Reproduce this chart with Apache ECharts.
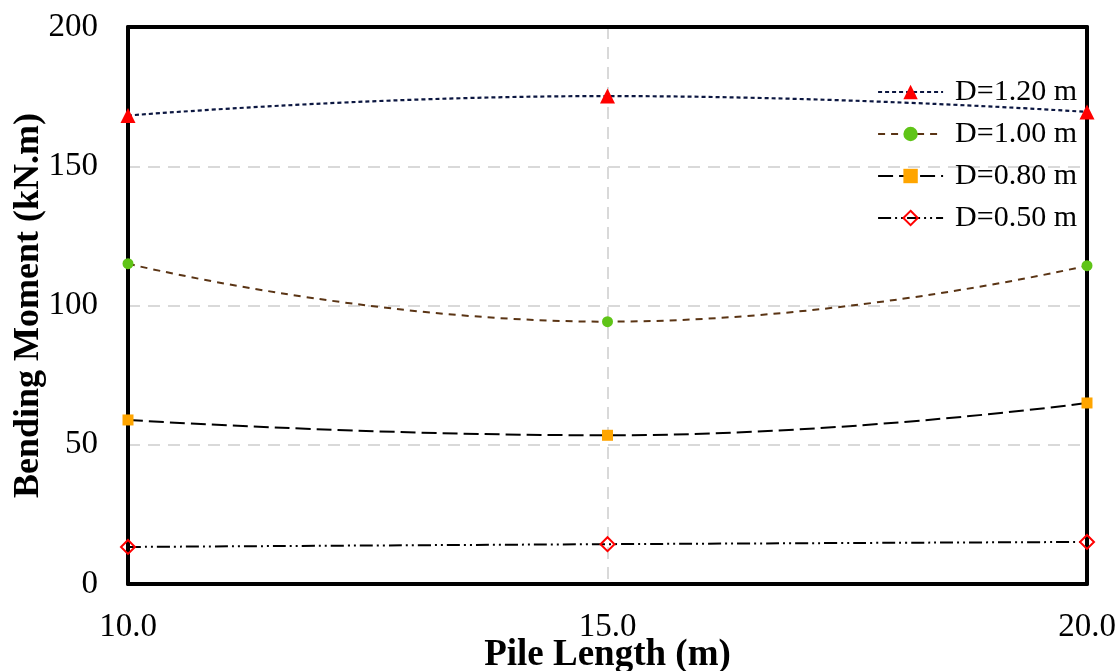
<!DOCTYPE html>
<html><head><meta charset="utf-8">
<script src="https://cdn.jsdelivr.net/npm/echarts@6/dist/echarts.min.js"></script>
<style>html,body{margin:0;padding:0;background:#fff}#c{width:1118px;height:671px}</style>
</head><body><div id="c"></div>
<script>
const pileLength = [10, 15, 20];
const d120 = [168.2, 175.2, 169.5];
const d100 = [115.0, 94.2, 114.3];
const d080 = [58.9, 53.4, 65.0];
const d050 = [13.3, 14.3, 15.1];
const seriesNames = ['D=1.20 m', 'D=1.00 m', 'D=0.80 m', 'D=0.50 m'];

const font = 'Liberation Serif, Times New Roman, serif';
function pts(v){ return pileLength.map((x,i)=>[x, v[i]]); }
const grid = {color: '#d9d9d9', width: 2, type: [12, 8]};

const chart = echarts.init(document.getElementById('c'));
chart.setOption({
  animation: false,
  backgroundColor: '#fff',
  grid: {left: 128, top: 27, right: 31, bottom: 87, containLabel: false, outerBoundsMode: 'none'},
  legend: {
    top: 72, right: 36, orient: 'vertical', itemGap: 12, itemWidth: 65, itemHeight: 18,
    textStyle: {fontFamily: font, fontSize: 30, color: '#000', padding: [0, 0, 0, 7]},
    data: seriesNames
  },
  xAxis: [{
    type: 'value', min: 10, max: 20, interval: 5,
    name: 'Pile Length (m)', nameLocation: 'middle', nameGap: 53, nameMoveOverlap: false,
    nameTextStyle: {fontFamily: font, fontSize: 37, fontWeight: 'bold', color: '#000'},
    axisLine: {show: true, lineStyle: {color: '#000', width: 4}},
    axisTick: {show: false},
    axisLabel: {fontFamily: font, fontSize: 33, color: '#000', margin: 27, formatter: v => v.toFixed(1)},
    splitLine: {show: true, lineStyle: grid}
  }, {
    type: 'value', min: 10, max: 20, position: 'top',
    axisLine: {show: true, onZero: false, lineStyle: {color: '#000', width: 4}},
    axisTick: {show: false}, axisLabel: {show: false}, splitLine: {show: false}
  }],
  yAxis: [{
    type: 'value', min: 0, max: 200, interval: 50,
    name: 'Bending Moment (kN.m)', nameLocation: 'middle', nameGap: 81, nameMoveOverlap: false,
    nameTextStyle: {fontFamily: font, fontSize: 36, fontWeight: 'bold', color: '#000'},
    axisLine: {show: true, lineStyle: {color: '#000', width: 4}},
    axisTick: {show: false},
    axisLabel: {fontFamily: font, fontSize: 33, color: '#000', margin: 30},
    splitLine: {show: true, lineStyle: grid}
  }, {
    type: 'value', min: 0, max: 200, position: 'right',
    axisLine: {show: true, onZero: false, lineStyle: {color: '#000', width: 4}},
    axisTick: {show: false}, axisLabel: {show: false}, splitLine: {show: false}
  }],
  series: [
    {name: seriesNames[0], type: 'line', smooth: true, clip: false, data: pts(d120),
     symbol: 'triangle', symbolSize: 15,
     itemStyle: {color: '#ff0000'},
     lineStyle: {color: '#0b1640', width: 2.2, type: [4, 3]}},
    {name: seriesNames[1], type: 'line', smooth: true, clip: false, data: pts(d100),
     symbol: 'circle', symbolSize: 11,
     itemStyle: {color: '#5fc417'},
     lineStyle: {color: '#5a3414', width: 2, type: [7, 6]}},
    {name: seriesNames[2], type: 'line', smooth: true, clip: false, data: pts(d080),
     symbol: 'rect', symbolSize: 11,
     itemStyle: {color: '#ffa500'},
     lineStyle: {color: '#000', width: 2, type: [15, 6]}},
    {name: seriesNames[3], type: 'line', smooth: true, clip: false, data: pts(d050),
     symbol: 'diamond', symbolSize: 14,
     itemStyle: {color: 'rgba(255,255,255,0)', borderColor: '#ff0000', borderWidth: 2},
     lineStyle: {color: '#000', width: 2, type: [13, 4, 2, 4, 2, 4]}}
  ]
});
</script></body></html>
